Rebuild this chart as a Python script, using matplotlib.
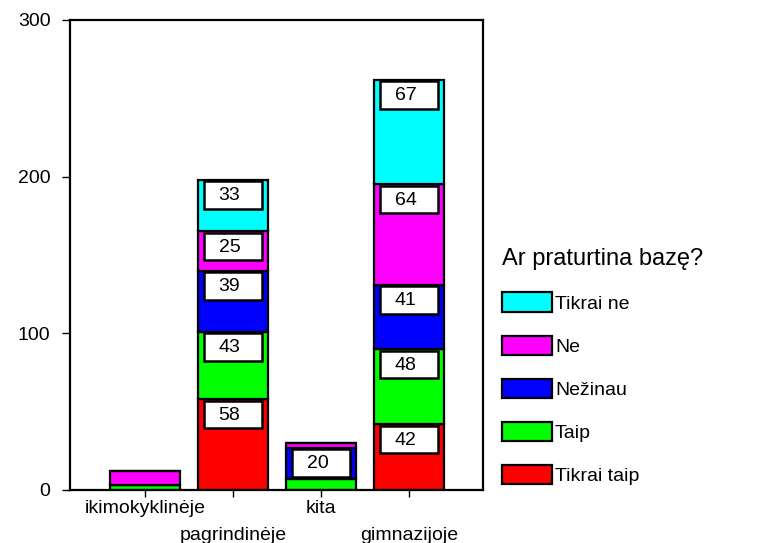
import matplotlib.pyplot as plt
from matplotlib.patches import Patch, Rectangle

plt.rcParams['font.family'] = ['Liberation Sans', 'DejaVu Sans']

categories = ['ikimokyklinėje', 'pagrindinėje', 'kita', 'gimnazijoje']
series_names = ['Tikrai taip', 'Taip', 'Nežinau', 'Ne', 'Tikrai ne']
tikrai_taip = [0, 58, 0, 42]
taip = [3, 43, 7, 48]
nezinau = [0, 39, 20, 41]
ne = [9, 25, 3, 64]
tikrai_ne = [0, 33, 0, 67]
colors = ['#ff0000', '#00ff00', '#0000ff', '#ff00ff', '#00ffff']

series = [tikrai_taip, taip, nezinau, ne, tikrai_ne]

fig = plt.figure(figsize=(7.79, 5.43), dpi=100)
ax = fig.add_axes([70 / 779, 53 / 543, 413 / 779, 470 / 543])

x = list(range(len(categories)))
bottom = [0] * len(categories)
box_w = 0.66
box_h = 17.5
for vals, col in zip(series, colors):
    ax.bar(x, vals, width=0.8, bottom=bottom, color=col,
           edgecolor='black', linewidth=1.6)
    for i, v in enumerate(vals):
        #  Value boxes only for the bigger segments
        if v >= 15:
            top = bottom[i] + v
            ax.add_patch(Rectangle((x[i] - box_w / 2, top - 1 - box_h), box_w, box_h,
                                   facecolor='white', edgecolor='black',
                                   linewidth=1.8, zorder=3))
            ax.text(x[i] - 0.04, top - 1.5 - box_h / 2, str(v), ha='center', va='center',
                    fontsize=14, zorder=4)
    bottom = [b + v for b, v in zip(bottom, vals)]

ax.set_ylim(0, 300)
ax.set_xlim(-0.85, 3.84)
ax.set_yticks([0, 100, 200, 300])
ax.tick_params(axis='y', labelsize=14, length=6, width=1, pad=8)
ax.set_xticks(x)
ax.set_xticklabels(categories, fontsize=14)
ax.tick_params(axis='x', length=5, width=1, pad=2)
for i, lab in enumerate(ax.get_xticklabels()):
    if i % 2 == 1:
        lab.set_y(-0.057)
for sp in ax.spines.values():
    sp.set_linewidth(1.6)

handles = [Patch(facecolor=c, edgecolor='black', linewidth=1.6, label=n)
           for c, n in zip(colors[::-1], series_names[::-1])]
leg = fig.legend(handles=handles, loc='upper left', bbox_to_anchor=(484 / 779, 1 - 230 / 543),
                 frameon=False, fontsize=14, title='Ar praturtina bazę?',
                 title_fontsize=17, handlelength=2.6, handleheight=1.15,
                 labelspacing=1.18, handletextpad=0.15, alignment='left')

fig.savefig('out.png', dpi=100)
